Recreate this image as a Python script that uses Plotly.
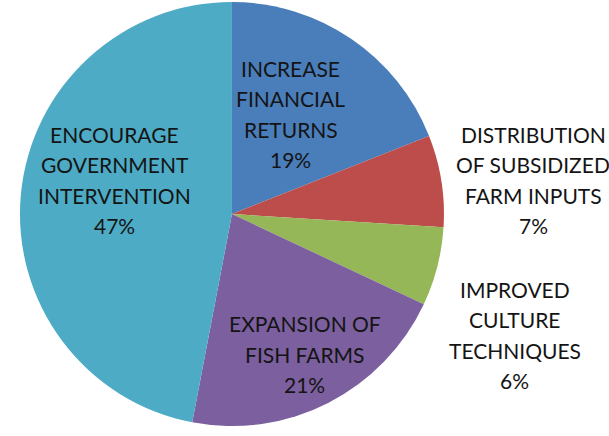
import math
import plotly.graph_objects as go

categories = ["INCREASE<br>FINANCIAL<br>RETURNS",
              "DISTRIBUTION<br>OF SUBSIDIZED<br>FARM INPUTS",
              "IMPROVED<br>CULTURE<br>TECHNIQUES",
              "EXPANSION OF<br>FISH FARMS",
              "ENCOURAGE<br>GOVERNMENT<br>INTERVENTION"]
values = [19, 7, 6, 21, 47]
colors = ["#4a7ebb", "#bc4d4a", "#96b757", "#7c5f9e", "#4dabc5"]

# label placement style (radial distance as fraction of radius, angle tweak in degrees)
label_radius = [0.548, 1.43, 1.45, 0.745, 0.575]
label_angle_adj = [-3.7, 2.6, 8.8, -0.5, 10.8]

W, H = 609, 436
dom_x = [0.0328, 0.729]
dom_y = [0.0229, 0.9954]
cx = (dom_x[0] + dom_x[1]) / 2 * W
cy = (1 - (dom_y[0] + dom_y[1]) / 2) * H
R = (dom_x[1] - dom_x[0]) * W / 2

fig = go.Figure(go.Pie(
    labels=categories, values=values, sort=False, direction="clockwise", rotation=0,
    marker=dict(colors=colors, line=dict(width=0)),
    textinfo="none", domain=dict(x=dom_x, y=dom_y),
    showlegend=False, hoverinfo="skip",
))

total = sum(values)
cum = 0
line_gap = 30.5
for lab, v, rf, adj in zip(categories, values, label_radius, label_angle_adj):
    mid = (cum + v / 2) / total * 360
    cum += v
    a = math.radians(mid + adj)
    px = cx + rf * R * math.sin(a)
    py = cy - rf * R * math.cos(a)
    lines = lab.split("<br>") + [f"{round(v / total * 100)}%"]
    n = len(lines)
    for i, t in enumerate(lines):
        fig.add_annotation(x=px / W, y=1 - py / H, xref="paper", yref="paper",
                           text=t, showarrow=False, xanchor="center", yanchor="middle",
                           yshift=((n - 1) / 2 - i) * line_gap,
                           font=dict(family="Lato", size=21, color="#141414"))

fig.update_layout(width=W, height=H, margin=dict(l=0, r=0, t=0, b=0),
                  paper_bgcolor="white")
fig.write_html("out.html")
